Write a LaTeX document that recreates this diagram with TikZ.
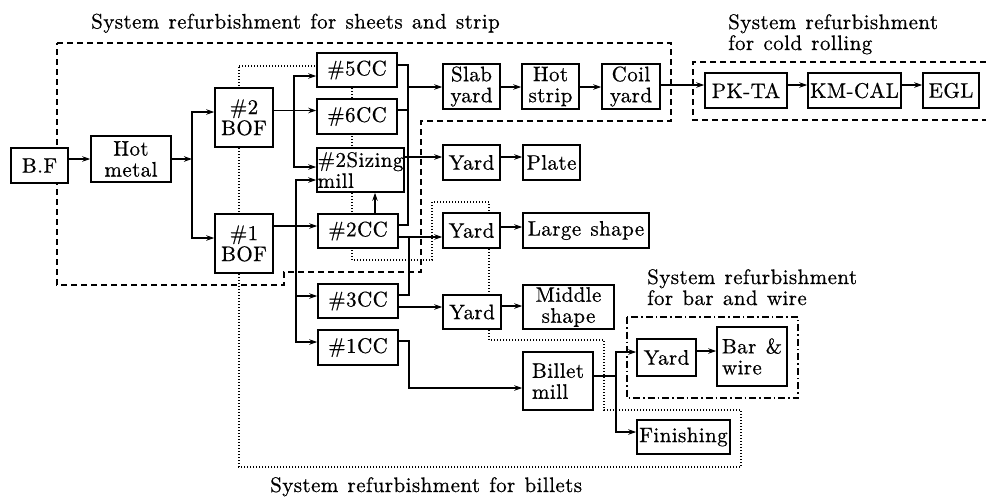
\documentclass[tikz,border=0pt]{standalone}
\usepackage{fontspec}
\setmainfont{lmroman10-regular.otf}[LetterSpace=2, WordSpace=1.25, FakeBold=0.6]
\usetikzlibrary{arrows.meta}
\begin{document}
\begin{tikzpicture}[x=1pt,y=-1pt,
  every node/.style={font=\fontsize{21}{21}\selectfont},
  box/.style={draw, line width=1.6pt, fill=white, inner sep=1pt, align=center},
  arr/.style={line width=1.1pt, -{Stealth[length=8pt,width=5.5pt]}},
  ln/.style={line width=1.1pt},
  sheetreg/.style={line width=1.2pt, dash pattern=on 6pt off 4pt},
  billetreg/.style={line width=1.1pt, dash pattern=on 1pt off 2pt},
  barreg/.style={line width=1.2pt, dash pattern=on 7pt off 3pt on 1.5pt off 3pt},
  lbl/.style={anchor=base west, inner sep=0pt}
]
\useasboundingbox (0,0) rectangle (986,498);

% regions
\draw[sheetreg] (57,43) -- (671,43) -- (671,121) -- (421,121) -- (421,272) -- (284,272) -- (284,285) -- (57,285) -- cycle;
\draw[sheetreg] (986,62) -- (693,62) -- (693,120) -- (986,120);
\draw[billetreg] (239,66) -- (352,66) -- (352,260) -- (432,260) -- (432,202) -- (489,202) -- (489,340) -- (604,340) -- (604,410) -- (741,410) -- (741,467) -- (239,467) -- cycle;
\draw[barreg] (627,317) rectangle (798,398);

% labels
\node[lbl] (lsheet) at (91,28.5) {System refurbishment for sheets and strip};
\node[lbl] (lcold1) at (728,29) {System refurbishment};
\node[lbl] (lcold2) at (728,50) {for cold rolling};
\node[lbl] (lbar1) at (647,284) {System refurbishment};
\node[lbl] (lbar2) at (647,305) {for bar and wire};
\node[lbl] (lbil) at (270,492) {System refurbishment for billets};

% boxes
\node[box, minimum width=57pt, minimum height=35pt] (bf) at (39.5,165.5) {B.F};
\node[box, minimum width=80pt, minimum height=46pt] (hot) at (131,159) {Hot\\metal};
\node[box, minimum width=58pt, minimum height=59pt] (bof2) at (244,117.5) {\#2\\BOF};
\node[box, minimum width=58pt, minimum height=59pt] (bof1) at (244,243.5) {\#1\\BOF};
\node[box, minimum width=80pt, minimum height=34pt] (cc5) at (357,70) {\#5CC};
\node[box, minimum width=80pt, minimum height=35pt] (cc6) at (357,116.5) {\#6CC};
\node[box, minimum width=87pt, minimum height=44pt, align=left, inner sep=0pt] (siz) at (360.5,170) {\#2Sizing\\mill};
\node[box, minimum width=80pt, minimum height=34pt] (cc2) at (358,231) {\#2CC};
\node[box, minimum width=80pt, minimum height=34pt] (cc3) at (358,301) {\#3CC};
\node[box, minimum width=80pt, minimum height=35pt] (cc1) at (358,347.5) {\#1CC};
\node[box, minimum width=57pt, minimum height=45pt] (slab) at (471.5,86.5) {Slab\\yard};
\node[box, minimum width=57pt, minimum height=45pt] (hstrip) at (550.5,86.5) {Hot\\strip};
\node[box, minimum width=58pt, minimum height=45pt] (coil) at (631,86.5) {Coil\\yard};
\node[box, minimum width=82pt, minimum height=35pt] (pkta) at (746,90.5) {PK-TA};
\node[box, minimum width=93pt, minimum height=35pt] (kmcal) at (854.5,90.5) {KM-CAL};
\node[box, minimum width=56pt, minimum height=35pt] (egl) at (951,90.5) {EGL};
\node[box, minimum width=57pt, minimum height=35pt] (ydp) at (471.5,162.5) {Yard};
\node[box, minimum width=57pt, minimum height=35pt] (plate) at (551.5,162.5) {Plate};
\node[box, minimum width=57pt, minimum height=35pt] (ydl) at (471.5,230.5) {Yard};
\node[box, minimum width=126pt, minimum height=35pt] (large) at (586,230.5) {Large shape};
\node[box, minimum width=58pt, minimum height=34pt] (ydm) at (472,312) {Yard};
\node[box, minimum width=91pt, minimum height=44pt] (middle) at (568.5,307) {Middle\\shape};
\node[box, minimum width=70pt, minimum height=58pt, align=left] (billet) at (558,381) {Billet\\mill};
\node[box, minimum width=59pt, minimum height=37pt] (ydb) at (666.5,357.5) {Yard};
\node[box, minimum width=70pt, minimum height=59pt, align=left] (bar) at (752,356.5) {Bar \&\\wire};
\node[box, minimum width=93pt, minimum height=34pt, inner sep=0pt] (fin) at (683.5,437) {Finishing};

% junction coordinates
\coordinate (hj) at (192,159);
\coordinate (h2) at (192,112);
\coordinate (h1) at (192,238);
\coordinate (j2) at (294,110.5);
\coordinate (j2a) at (294,76);
\coordinate (j2b) at (294,167);
\coordinate (j1) at (296,226);
\coordinate (j1a) at (296,180);
\coordinate (j1b) at (296,296);
\coordinate (j1c) at (296,342);
\coordinate (up) at (375,0);
\coordinate (ra) at (408,65);
\coordinate (r6) at (408,110);
\coordinate (rs) at (408,87);
\coordinate (rb) at (408,225);
\coordinate (rp) at (420,157);
\coordinate (rc) at (409,237);
\coordinate (r3) at (409,295);
\coordinate (rm) at (420,307);
\coordinate (q1) at (409,341);
\coordinate (q2) at (409,388);
\coordinate (bb) at (616,376);
\coordinate (bb1) at (616,352);
\coordinate (bb2) at (616,432);
\coordinate (yp) at (0,157);
\coordinate (yl) at (0,227);
\coordinate (ym) at (0,306);
\coordinate (yb) at (0,351);
\coordinate (cr) at (0,85);
\coordinate (sr) at (0,87);

% connectors
\draw[arr] (bf.east |- hot) -- (hot.west);
\draw[arr] (hot.east) -- (hj);
\draw[arr] (hj) -- (h2) -- (bof2.west |- h2);
\draw[arr] (hj) -- (h1) -- (bof1.west |- h1);

\draw[arr] (bof2.east |- j2) -- (cc6.west |- j2);
\draw[arr] (j2) -- (j2a) -- (cc5.west |- j2a);
\draw[arr] (j2) -- (j2b) -- (siz.west |- j2b);

\draw[arr] (bof1.east |- j1) -- (cc2.west |- j1);
\draw[arr] (j1) -- (j1a) -- (siz.west |- j1a);
\draw[arr] (j1) -- (j1b) -- (cc3.west |- j1b);
\draw[arr] (j1b) -- (j1c) -- (cc1.west |- j1c);

\draw[arr] (cc2.north -| up) -- (siz.south -| up);

\draw[ln] (cc5.east |- ra) -- (ra) -- (rb) -- (cc2.east |- rb);
\draw[ln] (cc6.east |- r6) -- (r6);
\draw[arr] (rs) -- (slab.west |- rs);

\draw[arr] (siz.east |- rp) -- (ydp.west |- rp);

\draw[arr] (cc2.east |- rc) -- (ydl.west |- rc);
\draw[ln] (cc3.east |- r3) -- (r3) -- (rc);

\draw[arr] (cc3.east |- rm) -- (ydm.west |- rm);

\draw[arr] (cc1.east |- q1) -- (q1) -- (q2) -- (billet.west |- q2);

\draw[ln] (billet.east |- bb) -- (bb);
\draw[arr] (bb) -- (bb1) -- (ydb.west |- bb1);
\draw[arr] (bb) -- (bb2) -- (fin.west |- bb2);

\draw[arr] (slab.east |- sr) -- (hstrip.west |- sr);
\draw[arr] (hstrip.east |- sr) -- (coil.west |- sr);
\draw[arr] (coil.east |- cr) -- (pkta.west |- cr);
\draw[arr] (pkta.east |- cr) -- (kmcal.west |- cr);
\draw[arr] (kmcal.east |- cr) -- (egl.west |- cr);

\draw[arr] (ydp.east |- yp) -- (plate.west |- yp);
\draw[arr] (ydl.east |- yl) -- (large.west |- yl);
\draw[arr] (ydm.east |- ym) -- (middle.west |- ym);
\draw[arr] (ydb.east |- yb) -- (bar.west |- yb);
\end{tikzpicture}
\end{document}
